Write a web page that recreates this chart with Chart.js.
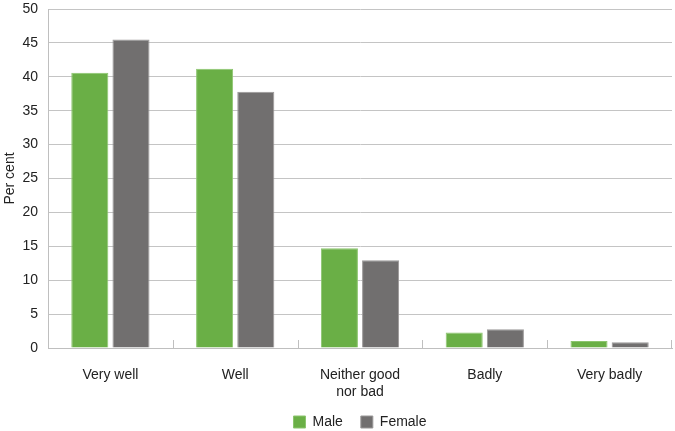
<!DOCTYPE html>
<html>
<head>
<meta charset="utf-8">
<script src="https://cdn.jsdelivr.net/npm/chart.js@4.4.1/dist/chart.umd.min.js"></script>
<style>
  html, body { margin: 0; padding: 0; background: #fff; }
  #wrap { width: 675px; height: 431px; }
</style>
</head>
<body>
<div id="wrap"><canvas id="chart"></canvas></div>
<script>
var categories = ['Very well', 'Well', ['Neither good', 'nor bad'], 'Badly', 'Very badly'];
var maleValues = [40.6, 41.2, 14.7, 2.3, 1.05];
var femaleValues = [45.5, 37.8, 12.95, 2.75, 0.85];
var yTicks = [0, 5, 10, 15, 20, 25, 30, 35, 40, 45, 50];

// short tick marks between categories, standing on the x axis
var catTicks = {
    id: 'catTicks',
    afterDraw: function (chart) {
        var x = chart.scales.x;
        var y = chart.scales.y;
        var ctx = chart.ctx;
        var base = y.getPixelForValue(0);
        ctx.save();
        ctx.strokeStyle = '#bfbfbf';
        ctx.lineWidth = 1;
        for (var i = 1; i <= categories.length; i++) {
            var px = Math.round((x.getPixelForValue(i - 1) + x.getPixelForValue(i)) / 2) + 0.5;
            if (i === categories.length) px = Math.round(x.right) - 0.5;
            ctx.beginPath();
            ctx.moveTo(px, base);
            ctx.lineTo(px, base - 8);
            ctx.stroke();
        }
        ctx.restore();
    }
};

Chart.defaults.font.family = '"Liberation Sans", Arial, sans-serif';
Chart.defaults.font.size = 14;
Chart.defaults.color = '#222';

new Chart(document.getElementById('chart'), {
    type: 'bar',
    data: {
        labels: categories,
        datasets: [{
            label: 'Male',
            data: maleValues,
            backgroundColor: '#6aaf46',
            borderColor: '#8cc56e',
            borderWidth: 1
        }, {
            label: 'Female',
            data: femaleValues,
            backgroundColor: '#716f6f',
            borderColor: '#9a9898',
            borderWidth: 1
        }]
    },
    options: {
        responsive: true,
        maintainAspectRatio: false,
        animation: false,
        layout: { padding: { top: 9, right: 3, left: 0, bottom: -8 } },
        datasets: { bar: { categoryPercentage: 0.66, barPercentage: 0.9 } },
        plugins: {
            legend: {
                position: 'bottom',
                fullSize: false,
                labels: { boxWidth: 12, boxHeight: 12, padding: 18, color: '#222' }
            },
            tooltip: { enabled: false }
        },
        scales: {
            x: {
                grid: { display: false },
                border: { color: '#bfbfbf' },
                ticks: { padding: 11, maxRotation: 0 },
                afterFit: function (axis) { axis.height = 49; }
            },
            y: {
                min: 0,
                max: 50,
                afterBuildTicks: function (axis) {
                    axis.ticks = yTicks.map(function (v) { return { value: v }; });
                },
                afterFit: function (axis) {
                    axis.width = 48;
                    axis.paddingTop = 0;
                },
                grid: { color: '#c4c4c4', drawTicks: false },
                border: { color: '#bfbfbf' },
                ticks: { padding: 10 },
                title: { display: true, text: 'Per cent', padding: 2 }
            }
        }
    },
    plugins: [catTicks]
});
</script>
</body>
</html>
